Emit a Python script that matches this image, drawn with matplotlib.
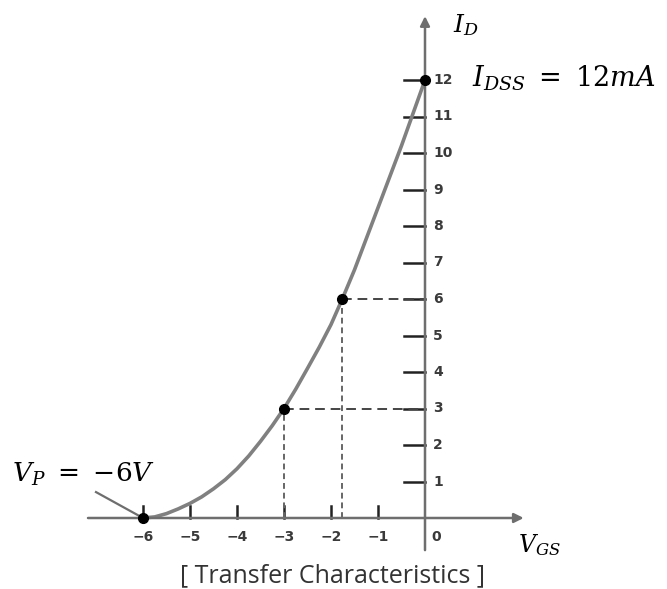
import matplotlib.pyplot as plt

# Transfer characteristic of the JFET
vgs_curve = [-6, -5.75, -5.5, -5.25, -5, -4.75, -4.5, -4.25, -4, -3.75, -3.5,
             -3.25, -3, -2.75, -2.5, -2.25, -2, -1.76, -1.5, -1.25, -1, -0.75,
             -0.5, -0.25, 0]
id_curve = [0, 0.03, 0.12, 0.25, 0.4, 0.58, 0.8, 1.05, 1.35, 1.7, 2.1,
            2.53, 3, 3.53, 4.1, 4.68, 5.3, 6, 6.8, 7.65, 8.5, 9.35,
            10.2, 11.1, 12]

# marked points
vgs_pts = [-6, -3, -1.76, 0]
id_pts = [0, 3, 6, 12]

x_ticks = [-6, -5, -4, -3, -2, -1]
x_labels = ['\u22126', '\u22125', '\u22124', '\u22123', '\u22122', '\u22121']
y_ticks = list(range(1, 13))

plt.rcParams['mathtext.fontset'] = 'dejavuserif'

fig = plt.figure(figsize=(6.67, 5.89), dpi=100)
ax = fig.add_axes([0, 0, 1, 1])
# 47 px per volt, 36.5 px per mA, origin at pixel (425, 518)
ax.set_xlim(-425 / 47, (667 - 425) / 47)
ax.set_ylim(-(589 - 518) / 36.5, 518 / 36.5)
ax.axis('off')

axis_c = '#6e6e6e'
# axes with arrows
ax.annotate('', xy=(2.1, 0), xytext=(-7.17, 0),
            arrowprops=dict(arrowstyle='-|>', color=axis_c, lw=1.8,
                            mutation_scale=14, shrinkA=0, shrinkB=0))
ax.annotate('', xy=(0, 13.75), xytext=(0, -0.88),
            arrowprops=dict(arrowstyle='-|>', color=axis_c, lw=1.8,
                            mutation_scale=14, shrinkA=0, shrinkB=0))

# ticks
tick_font = dict(fontsize=10, fontweight='bold', color='#3a3a3a')
for v, lab in zip(x_ticks, x_labels):
    ax.plot([v, v], [0, 0.33], color='#222222', lw=1.8)
    ax.text(v, -0.52, lab, ha='center', va='center', **tick_font)
ax.text(0.24, -0.52, '0', ha='center', va='center', **tick_font)
for i in y_ticks:
    ax.plot([-0.44, 0], [i, i], color='#222222', lw=1.8)
    ax.text(0.17, i, str(i), ha='left', va='center', **tick_font)

# dashed projections
for v, i in zip(vgs_pts[1:3], id_pts[1:3]):
    ax.plot([v, 0], [i, i], color='#444444', lw=1.4, ls=(0, (5, 3)))
    ax.plot([v, v], [0, i], color='#666666', lw=1.4, ls=(0, (3, 2)))

# curve and points
ax.plot(vgs_curve, id_curve, color='#808080', lw=2.6, solid_capstyle='round')
ax.plot(vgs_pts, id_pts, 'o', color='black', ms=7, zorder=5)

# labels
ax.text(0.6, 13.5, '$I_D$', fontsize=18, ha='left', va='center')
ax.text(1.0, 12.05, r'$I_{DSS}\ =\ 12mA$', fontsize=19.5, ha='left', va='center')
ax.text(1.98, -0.74, '$V_{GS}$', fontsize=17, ha='left', va='center')
ax.text(-8.79, 1.2, r'$V_P\ =\ {-}6V$', fontsize=19, ha='left', va='center')
ax.plot([-7.0, -6.0], [0.71, 0.0], color=axis_c, lw=1.6)
ax.text(-1.96, -1.75, '[ Transfer Characteristics ]', fontsize=18,
        family='Open Sans', color='#333333', ha='center', va='baseline')

fig.savefig('out.png', dpi=100)
